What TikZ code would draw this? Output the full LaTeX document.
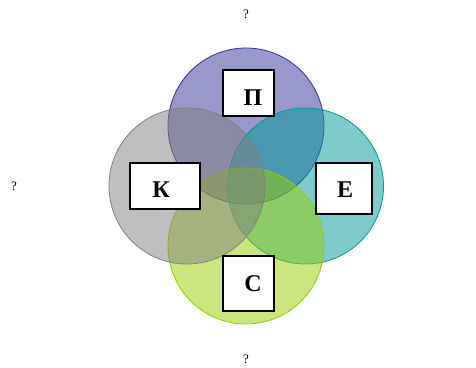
\documentclass[tikz,border=0pt]{standalone}
\usepackage{fontspec}
\setmainfont{Liberation Serif}
\definecolor{cpur}{HTML}{333399}
\definecolor{cteal}{HTML}{009999}
\definecolor{cgreen}{HTML}{99CC00}
\definecolor{cgray}{HTML}{808080}
\begin{document}
\begin{tikzpicture}[x=1pt,y=-1pt,
  ring/.style={draw=#1,fill=#1,fill opacity=0.5,line width=0.8pt},
  tag/.style={draw=black,fill=white,line width=2pt,inner sep=0pt},
  letter/.style={font=\fontsize{24}{28}\selectfont\bfseries,inner sep=0pt},
  qmark/.style={font=\fontsize{13}{15}\selectfont,inner sep=0pt}]
\useasboundingbox (0,0) rectangle (476,367);
\fill[white] (0,0) rectangle (476,367);
\draw[ring=cpur] (246,126) circle (78);
\draw[ring=cteal] (305.5,186) circle (78);
\draw[ring=cgreen] (246,246) circle (78);
\draw[ring=cgray] (187,186) circle (78);
\node[tag,minimum width=51pt,minimum height=46pt] (bp) at (248.5,93) {};
\node[tag,minimum width=70pt,minimum height=46pt] (bk) at (165,186) {};
\node[tag,minimum width=56pt,minimum height=51pt] (be) at (344,188.5) {};
\node[tag,minimum width=51pt,minimum height=55pt] (bs) at (248.5,283.5) {};
\node[letter] (tp) at (253,98) {П};
\node[letter] (tk) at (161,190) {К};
\node[letter] (te) at (345,190) {Е};
\node[letter] (ts) at (253,284) {С};
\node[qmark] (qt) at (246,14) {?};
\node[qmark] (ql) at (14,186) {?};
\node[qmark] (qb) at (246,359) {?};
\node[qmark] (qr) at (479,183) {?};
\end{tikzpicture}
\end{document}
